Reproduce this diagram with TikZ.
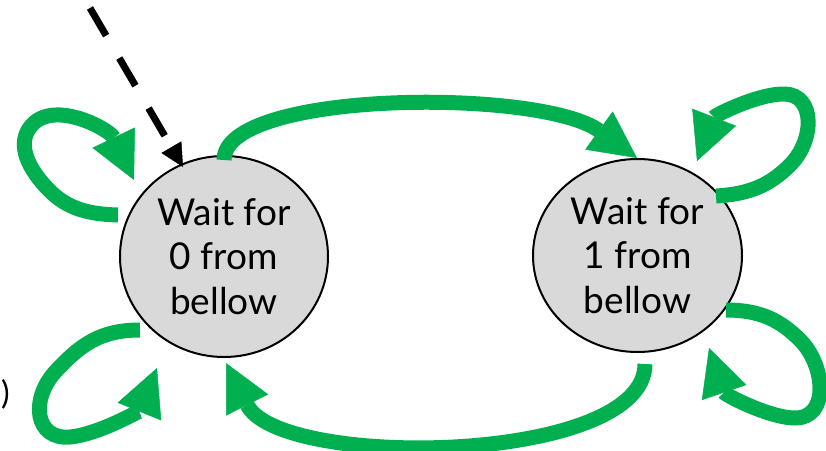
\documentclass[tikz,border=0pt]{standalone}
\usepackage{fontspec}
\setmainfont{Lato}
\usetikzlibrary{arrows.meta,shapes.geometric}
\definecolor{loopgreen}{RGB}{0,176,80}
\definecolor{stategrey}{RGB}{217,217,217}
\begin{document}
\begin{tikzpicture}[x=1pt,y=-1pt,
  state/.style={ellipse,draw=black,line width=2pt,fill=stategrey,inner sep=0pt,
    align=center,font=\fontsize{37}{44.5}\selectfont},
  trans/.style={draw=loopgreen,line width=15pt,
    -{Triangle[length=47pt,width=47pt,line width=0.5pt]}},
  initarrow/.style={draw=black,line width=7pt,dash pattern=on 32pt off 26pt,
    -{Triangle[length=23pt,width=23pt,line width=0.5pt]}}]
\useasboundingbox (0,0) rectangle (826,450);

% the two states
\node[state,minimum width=208pt,minimum height=201pt] (w0) at (224,256.5) {Wait for\\0 from\\bellow};
\node[state,minimum width=209pt,minimum height=193pt] (w1) at (637.5,255.5) {Wait for\\1 from\\bellow};

% stray closing bracket at the left border
\node[inner sep=0pt,font=\fontsize{24}{28}\selectfont] (paren) at (5.5,394.5) {\resizebox{!}{25pt}{)}};

% end points of the transitions
\coordinate (init) at (90,8);
\coordinate (w0in) at (183,167);
\coordinate (w0top) at (224,160);
\coordinate (w1tip) at (637,158);
\coordinate (w1bot) at (645,364);
\coordinate (w0tip) at (226,363);
\coordinate (w0la) at (118,215);
\coordinate (w0lb) at (134,180);
\coordinate (w0lc) at (140,330);
\coordinate (w0ld) at (157,368);
\coordinate (w1la) at (716,196);
\coordinate (w1lb) at (697,161);
\coordinate (w1lc) at (726,310);
\coordinate (w1ld) at (709,348);

% initial arrow
\draw[initarrow] (init) -- (w0in);

% transitions between the states
\draw[trans] (w0top) .. controls (224,90) and (540,88) .. (w1tip);
\draw[trans] (w1bot) .. controls (645,465) and (280,470) .. (w0tip);

% self loops
\draw[trans] (w0la) .. controls (80,214) and (60,205) .. (40,180)
  .. controls (20,155) and (20,135) .. (35,122)
  .. controls (60,102) and (110,130) .. (w0lb);
\draw[trans] (w0lc) .. controls (100,330) and (80,345) .. (55,372)
  .. controls (30,400) and (35,440) .. (70,437)
  .. controls (100,434) and (140,410) .. (w0ld);
\draw[trans] (w1la) .. controls (750,194) and (770,185) .. (790,165)
  .. controls (815,140) and (815,95) .. (785,94)
  .. controls (760,93) and (715,115) .. (w1lb);
\draw[trans] (w1lc) .. controls (760,310) and (780,320) .. (800,340)
  .. controls (825,365) and (830,418) .. (795,418)
  .. controls (770,418) and (725,395) .. (w1ld);
\end{tikzpicture}
\end{document}
